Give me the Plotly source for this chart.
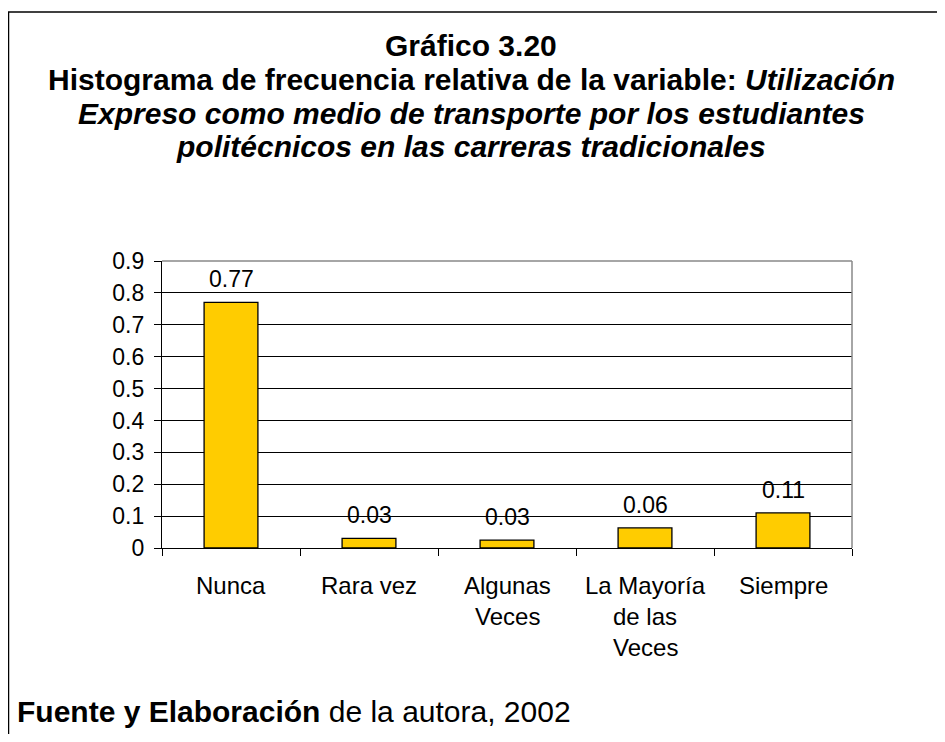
import plotly.graph_objects as go

categories = ["Nunca", "Rara vez", "Algunas Veces", "La Mayoría de las Veces", "Siempre"]
category_lines = [["Nunca"], ["Rara vez"], ["Algunas", "Veces"], ["La Mayoría", "de las", "Veces"], ["Siempre"]]
values = [0.77, 0.03, 0.025, 0.063, 0.11]
value_labels = ["0.77", "0.03", "0.03", "0.06", "0.11"]
y_ticks = [0, 0.1, 0.2, 0.3, 0.4, 0.5, 0.6, 0.7, 0.8, 0.9]
y_tick_labels = ["0", "0.1", "0.2", "0.3", "0.4", "0.5", "0.6", "0.7", "0.8", "0.9"]

# page body has an 8px margin; figure coordinates below are page coords minus 8
OFF = 8
W, H = 945 - 2 * OFF, 742 - 2 * OFF
L, R, T, B = 162 - OFF, 852 - OFF, 261 - OFF, 548 - OFF
pw, ph = R - L, B - T

def px(x):
    return (x - OFF - L) / pw

def py(y):
    return (B - (y - OFF)) / ph

FONT = "Arial, Liberation Sans, sans-serif"

fig = go.Figure()
fig.add_trace(go.Bar(
    x=categories, y=values,
    marker=dict(color="#FFCC00", line=dict(color="black", width=1.3)),
    hoverinfo="skip",
))

annotations = []
# data labels
for c, v, t in zip(categories, values, value_labels):
    annotations.append(dict(x=c, y=v, xref="x", yref="y", text=t, showarrow=False,
                            yanchor="middle", yshift=23,
                            font=dict(family=FONT, size=23, color="black")))
# category labels
for c, lines in zip(categories, category_lines):
    for i, ln in enumerate(lines):
        annotations.append(dict(x=c, y=0, xref="x", yref="paper", text=ln, showarrow=False,
                                yanchor="middle", yshift=-37 - 31 * i,
                                font=dict(family=FONT, size=24, color="black")))
# title lines (page y positions of line centres)
title_lines = [
    ("<b>Gráfico 3.20</b>", 45),
    ("<b>Histograma de frecuencia relativa de la variable: <i>Utilización</i></b>", 79),
    ("<b><i>Expreso como medio de transporte por los estudiantes</i></b>", 113),
    ("<b><i>politécnicos en las carreras tradicionales</i></b>", 146),
]
for txt, yy in title_lines:
    annotations.append(dict(x=px(471), y=py(yy), xref="paper", yref="paper", text=txt,
                            showarrow=False, xanchor="center", yanchor="middle",
                            font=dict(family=FONT, size=30, color="black")))
# footer
annotations.append(dict(x=px(15), y=py(711), xref="paper", yref="paper",
                        text="<b>Fuente y Elaboración</b> de la autora, 2002",
                        showarrow=False, xanchor="left", yanchor="middle",
                        font=dict(family=FONT, size=30, color="black")))

shapes = [
    # outer frame (top and left)
    dict(type="line", xref="paper", yref="paper", x0=px(8), x1=px(960), y0=py(12), y1=py(12),
         line=dict(color="black", width=1.5)),
    dict(type="line", xref="paper", yref="paper", x0=px(8.5), x1=px(8.5), y0=py(12), y1=py(760),
         line=dict(color="black", width=1.5)),
    # plot area border top/right (gray)
    dict(type="line", xref="paper", yref="paper", x0=0, x1=1, y0=1, y1=1,
         line=dict(color="#888888", width=1.5), layer="above"),
    dict(type="line", xref="paper", yref="paper", x0=1, x1=1, y0=0, y1=1,
         line=dict(color="#888888", width=1.5), layer="above"),
]

fig.update_layout(
    width=W, height=H,
    margin=dict(l=L, r=W - R, t=T, b=H - B, pad=0),
    plot_bgcolor="white", paper_bgcolor="white",
    showlegend=False,
    bargap=0.61,
    annotations=annotations,
    shapes=shapes,
    font=dict(family=FONT, size=23, color="black"),
)
fig.update_xaxes(
    type="category", showticklabels=False, ticks="outside", ticklen=7, tickcolor="black",
    tickwidth=1.3, tickson="boundaries", showline=True, linecolor="black", linewidth=1.3,
    showgrid=False, zeroline=False, range=[-0.5, 4.5],
)
fig.update_yaxes(
    range=[0, 0.9], tickvals=y_ticks, ticktext=y_tick_labels, ticks="outside", ticklen=7,
    tickcolor="black", tickwidth=1.3, showline=True, linecolor="black", linewidth=1.3,
    showgrid=True, gridcolor="black", gridwidth=1.2, zeroline=False,
    tickfont=dict(family=FONT, size=23, color="black"), ticklabelstandoff=5,
)

fig.write_html("out.html")
